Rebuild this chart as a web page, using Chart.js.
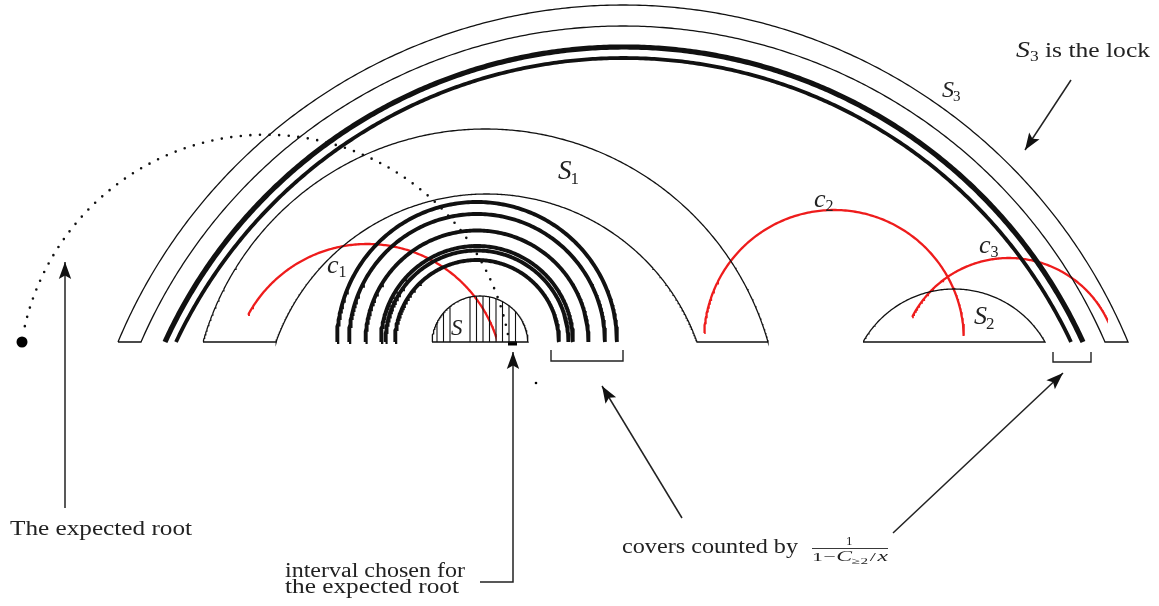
<!DOCTYPE html>
<html><head><meta charset="utf-8">
<script src="https://cdn.jsdelivr.net/npm/chart.js@4.4.1/dist/chart.umd.min.js"></script>
<style>html,body{margin:0;padding:0;background:#fff;overflow:hidden}canvas{display:block}</style>
</head><body>
<canvas id="c" width="1159" height="606"></canvas>
<script>
// ================= DATA (diagram geometry in plot units) =================
const baseY = 342;                       // common baseline of all intervals

// Bands S3 (outer) and S1: outer arc and inner arc (left end, right end, apex)
const bandOuterLeft  = [118, 203];
const bandOuterRight = [1128, 768];
const bandOuterTop   = [5, 129];
const bandInnerLeft  = [141, 276];
const bandInnerRight = [1105, 697];
const bandInnerTop   = [26, 194];

// Thick arcs of the lock S3
const lockLeft  = [165, 176];
const lockRight = [1083, 1071];
const lockTop   = [47, 58];

// Stack of nested thick semicircles around S
const stackCenter = 477;
const stackRadii  = [140, 128, 111.5, 96, 91.5, 82];

// Caps S and S2 (left end, right end, apex)
const capLeft  = [432, 863];
const capRight = [528, 1045];
const capTop   = [296, 289];
const hatchX   = [437, 443.5, 450, 470, 476.5, 483, 489.5, 496, 502.5, 509, 515.5];

// Red covers c1, c2, c3 : circle centre, radius, start/end angle (deg)
const coverCx   = [367.3, 834, 1009];
const coverCy   = [379.7, 340, 367];
const coverR    = [135.7, 130, 109];
const coverFrom = [151.5, 176.9, 152.7];
const coverTo   = [18.4, 1.8, 25.6];

// Dotted path from the expected root
const rootArc = [265.5, 381.7, 247, 167, 10.8];   // cx, cy, r, from, to
const rootPoint = [22, 342];
const strayPoint = [536, 383];

// ================= helpers =================
const D = Math.PI / 180;
function arcPts(cx, cy, r, a0, a1, n) {
  const p = [];
  for (let i = 0; i <= n; i++) {
    const a = a0 + (a1 - a0) * i / n;
    p.push({x: cx + r * Math.cos(a), y: cy - r * Math.sin(a)});
  }
  return p;
}
function chord(L, R, top) {
  const a = (R - L) / 2, h = baseY - top;
  const r = (a * a + h * h) / (2 * h);
  const cx = (L + R) / 2, cy = top + r;
  return {cx, cy, r, a0: Math.atan2(cy - baseY, L - cx), a1: Math.atan2(cy - baseY, R - cx)};
}
function chordArc(L, R, top, n) {
  const c = chord(L, R, top);
  return arcPts(c.cx, c.cy, c.r, c.a0, c.a1, n || 240);
}
function ds(points, color, width, extra) {
  return Object.assign({data: points, showLine: true, borderColor: color, borderWidth: width,
    pointRadius: 0, fill: false, tension: 0, borderJoinStyle: 'miter', spanGaps: false}, extra || {});
}

const datasets = [];
const BLACK = '#111';
const RED = '#ee1c1c';

// bands
for (let i = 0; i < bandOuterLeft.length; i++) {
  const outer = chordArc(bandOuterLeft[i], bandOuterRight[i], bandOuterTop[i], 400);
  const inner = chordArc(bandInnerLeft[i], bandInnerRight[i], bandInnerTop[i], 400).reverse();
  const pts = outer.concat(inner, [outer[0]]);
  datasets.push(ds(pts, BLACK, 1.3));
}
// lock thick arcs
const lockWidth = [5.2, 3.8];
for (let i = 0; i < lockLeft.length; i++) {
  datasets.push(ds(chordArc(lockLeft[i], lockRight[i], lockTop[i], 400), BLACK, lockWidth[i], {borderCapStyle: 'butt'}));
}
// stack of semicircles
for (const r of stackRadii) {
  datasets.push(ds(arcPts(stackCenter, baseY, r, Math.PI, 0, 200), BLACK, 3.9));
}
// caps
for (let i = 0; i < capLeft.length; i++) {
  const a = chordArc(capLeft[i], capRight[i], capTop[i], 160);
  datasets.push(ds(a.concat([a[0]]), BLACK, 1.3));
}
// hatching of S
{
  const c = chord(capLeft[0], capRight[0], capTop[0]);
  const pts = [];
  for (const x of hatchX) {
    pts.push({x, y: baseY});
    pts.push({x, y: c.cy - Math.sqrt(c.r * c.r - (x - c.cx) * (x - c.cx))});
    pts.push({x, y: null});
  }
  datasets.push(ds(pts, BLACK, 1.1));
}
// red covers
for (let i = 0; i < coverCx.length; i++) {
  datasets.push(ds(arcPts(coverCx[i], coverCy[i], coverR[i], coverFrom[i] * D, coverTo[i] * D, 200), RED, 2.3));
}
// dotted root path
datasets.push(ds(arcPts(rootArc[0], rootArc[1], rootArc[2], rootArc[3] * D, rootArc[4] * D, 400), BLACK, 2.6,
  {borderDash: [0, 9.6], borderCapStyle: 'round'}));
datasets.push({data: [{x: rootPoint[0], y: rootPoint[1]}], showLine: false, pointRadius: 5.5,
  pointBackgroundColor: '#000', pointBorderWidth: 0});
datasets.push({data: [{x: strayPoint[0], y: strayPoint[1]}], showLine: false, pointRadius: 1.3,
  pointBackgroundColor: '#000', pointBorderWidth: 0});

// ================= annotations (layout) =================
const brackets = [
  [[551, 350], [551, 361], [623, 361], [623, 350]],
  [[1053, 352], [1053, 362], [1091, 362], [1091, 352]]
];
for (const b of brackets) datasets.push(ds(b.map(p => ({x: p[0], y: p[1]})), '#222', 1.4));
// chosen interval marker
datasets.push(ds([{x: 508, y: 343.5}, {x: 517, y: 343.5}], '#000', 4, {borderCapStyle: 'butt'}));

const arrows = [
  [[65, 508], [65, 262]],
  [[480, 582], [513, 582], [513, 352]],
  [[682, 518], [602, 386]],
  [[893, 533], [1063, 373]],
  [[1071, 80], [1025, 150]]
];
for (const a of arrows) datasets.push(ds(a.map(p => ({x: p[0], y: p[1]})), '#222', 1.5));

const TXT = '#222';
const SERIF = '"Liberation Serif", "DejaVu Serif", serif';
// runs: [x, baseline, fitWidth(0 = natural), pieces[[text, size, italic, dy, gapAfter]]]
const runs = [
  [10, 535, 182, [['The expected root', 22, false, 0, 0]]],
  [285, 577, 180, [['interval chosen for', 20, false, 0, 0]]],
  [285, 593, 174, [['the expected root', 20, false, 0, 0]]],
  [622, 553, 176, [['covers counted by', 21, false, 0, 0]]],
  [1016, 57, 134, [['S', 24, true, 0, 0], ['3', 15, false, 4, 0], [' is the lock', 22, false, 0, 0]]],
  [942, 97, 0, [['S', 24, true, 0, -1], ['3', 15, false, 4, 0]]],
  [558, 179, 0, [['S', 27, true, 0, -1], ['1', 17, false, 5, 0]]],
  [974, 324, 0, [['S', 26, true, 0, -1], ['2', 17, false, 5, 0]]],
  [451, 335, 0, [['S', 23, true, 0, 0]]],
  [327, 273, 0, [['c', 26, true, 0, 0], ['1', 16, false, 4, 0]]],
  [814, 207, 0, [['c', 26, true, 0, 0], ['2', 16, false, 4, 0]]],
  [979, 253, 0, [['c', 26, true, 0, 0], ['3', 16, false, 4, 0]]],
  // fraction 1 / (1 - C_{>=2} / x)
  [846, 545, 0, [['1', 13, false, 0, 0]]],
  [812, 561, 76, [['1\u2212', 13, false, 0, 0.5], ['C', 14, true, 0, 0], ['\u22652', 9, false, 3, 1],
                  ['/', 13, false, 0, 1], ['x', 14, true, 0, 0]]]
];
const fracBar = [[812, 548.5], [888, 548.5]];

const annotPlugin = {
  id: 'annot',
  afterDatasetsDraw(chart) {
    const ctx = chart.ctx, sx = chart.scales.x, sy = chart.scales.y;
    const px = v => sx.getPixelForValue(v), py = v => sy.getPixelForValue(v);
    ctx.save();
    // arrow heads
    ctx.fillStyle = '#111';
    for (const a of arrows) {
      const p1 = a[a.length - 2], p2 = a[a.length - 1];
      const x1 = px(p1[0]), y1 = py(p1[1]), x2 = px(p2[0]), y2 = py(p2[1]);
      const ang = Math.atan2(y2 - y1, x2 - x1), L = 17, W = 6.2;
      ctx.beginPath();
      ctx.moveTo(x2, y2);
      ctx.lineTo(x2 - L * Math.cos(ang) + W * Math.sin(ang), y2 - L * Math.sin(ang) - W * Math.cos(ang));
      ctx.lineTo(x2 - L * 0.8 * Math.cos(ang), y2 - L * 0.8 * Math.sin(ang));
      ctx.lineTo(x2 - L * Math.cos(ang) - W * Math.sin(ang), y2 - L * Math.sin(ang) + W * Math.cos(ang));
      ctx.closePath();
      ctx.fill();
    }
    // fraction bar
    ctx.strokeStyle = TXT; ctx.lineWidth = 0.9;
    ctx.beginPath(); ctx.moveTo(px(fracBar[0][0]), py(fracBar[0][1])); ctx.lineTo(px(fracBar[1][0]), py(fracBar[1][1])); ctx.stroke();
    // texts
    ctx.fillStyle = TXT; ctx.textBaseline = 'alphabetic'; ctx.textAlign = 'left';
    const fontOf = (size, it) => (it ? 'italic ' : '') + size + 'px ' + SERIF;
    for (const [x, y, fit, pieces] of runs) {
      let w = 0;
      for (const [s, size, it, dy, gap] of pieces) { ctx.font = fontOf(size, it); w += ctx.measureText(s).width + gap; }
      const k = fit ? fit / w : 1;
      ctx.save(); ctx.translate(px(x), py(y)); ctx.scale(k, 1);
      let cx = 0;
      for (const [s, size, it, dy, gap] of pieces) {
        ctx.font = fontOf(size, it);
        ctx.fillText(s, cx, dy);
        cx += ctx.measureText(s).width + gap;
      }
      ctx.restore();
    }
    ctx.restore();
  }
};

new Chart(document.getElementById('c'), {
  type: 'scatter',
  data: {datasets},
  options: {
    responsive: false, animation: false, devicePixelRatio: 1, events: [],
    layout: {padding: 0, autoPadding: false},
    plugins: {legend: {display: false}, tooltip: {enabled: false}},
    scales: {
      x: {type: 'linear', min: 0, max: 1159, display: false},
      y: {type: 'linear', min: 0, max: 606, reverse: true, display: false}
    }
  },
  plugins: [annotPlugin]
});
</script>
</body></html>
